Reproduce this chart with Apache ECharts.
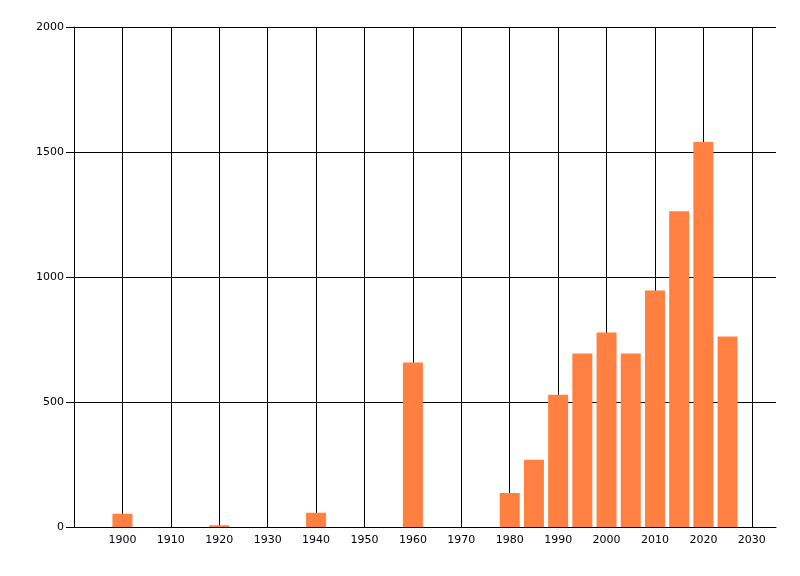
<!DOCTYPE html>
<html>
<head>
<meta charset="utf-8">
<script src="https://cdn.jsdelivr.net/npm/echarts@6/dist/echarts.min.js"></script>
<style>html,body{margin:0;padding:0;background:#fff}#c{width:800px;height:576px}</style>
</head>
<body>
<div id="c"></div>
<script>
var years = [1900, 1920, 1940, 1960, 1980, 1985, 1990, 1995, 2000, 2005, 2010, 2015, 2020, 2025];
var values = [53, 7, 57, 658, 136, 269, 529, 694, 778, 694, 946, 1263, 1540, 762];

var chart = echarts.init(document.getElementById('c'), null, {renderer: 'canvas'});
var font = 'Tahoma, "DejaVu Sans", sans-serif';
chart.setOption({
  animation: false,
  backgroundColor: '#fff',
  grid: {left: 74, right: 24, top: 27, bottom: 49, containLabel: false},
  xAxis: {
    type: 'value', min: 1890, max: 2035, interval: 10,
    axisLine: {show: true, onZero: false, lineStyle: {color: '#000', width: 1}},
    axisTick: {show: false},
    axisLabel: {
      color: '#000', fontFamily: font, fontSize: 11, margin: 8,
      showMinLabel: false, showMaxLabel: false,
      formatter: function (v) { return (v < 1900 || v > 2030) ? '' : String(v); }
    },
    splitLine: {show: true, showMinLine: false, showMaxLine: false, lineStyle: {color: '#000', width: 1}}
  },
  yAxis: {
    type: 'value', min: 0, max: 2000, interval: 500,
    axisLine: {show: true, lineStyle: {color: '#000', width: 1}},
    axisTick: {show: true, length: 8, lineStyle: {color: '#000'}},
    axisLabel: {color: '#000', fontFamily: font, fontSize: 11, margin: 10,
      formatter: function (v) { return String(v); }},
    splitLine: {show: true, lineStyle: {color: '#000', width: 1}}
  },
  series: [{
    type: 'bar',
    barWidth: 20,
    itemStyle: {color: '#ff8040'},
    data: years.map(function (y, i) { return [y, values[i]]; })
  }]
});
</script>
</body>
</html>
